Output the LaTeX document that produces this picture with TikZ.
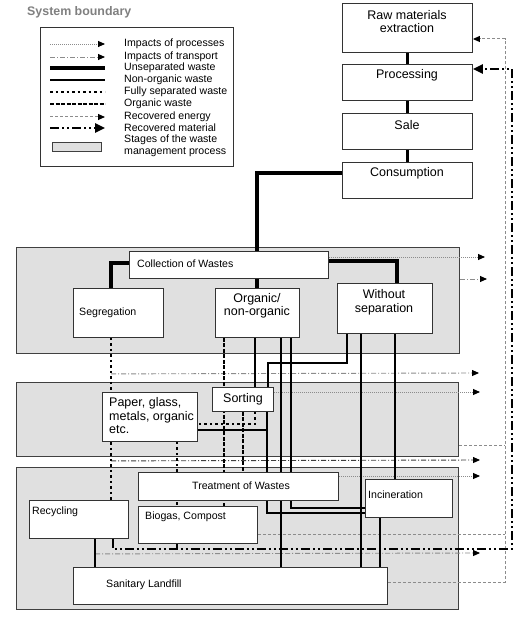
\documentclass[tikz,border=0pt]{standalone}
\usepackage{fontspec}
\setmainfont{Liberation Sans}
\usetikzlibrary{arrows.meta}
\pgfdeclarelayer{bg}
\pgfdeclarelayer{lines}
\pgfsetlayers{bg,lines,main}
\begin{document}
\begin{tikzpicture}[x=1pt,y=-1pt,
  panel/.style={draw=black!75, fill=black!12, line width=1pt, anchor=north west, inner sep=0pt},
  box/.style={draw=black!80, fill=white, line width=0.9pt, anchor=north west, inner sep=0pt},
  txs/.style={font=\fontsize{10.6}{12}\selectfont, inner sep=0pt, anchor=west},
  txl/.style={font=\fontsize{12.5}{13.5}\selectfont, inner sep=0pt, align=center},
  unsep/.style={line width=3.6pt},
  nonorg/.style={line width=2.8pt},
  fullsep/.style={line width=2.7pt, dash pattern=on 2.5pt off 3pt},
  orgw/.style={line width=2.8pt, dash pattern=on 4pt off 1.5pt},
  tipS/.style={-{Triangle[length=7pt,width=6pt,color=black]}},
  impproc/.style={draw=black!45, line width=0.9pt, dash pattern=on 1pt off 1pt, tipS},
  imptrans/.style={draw=black!45, line width=0.9pt, dash pattern=on 5pt off 2pt on 1pt off 2pt, tipS},
  imptransd/.style={draw=black!75, line width=0.9pt, dash pattern=on 5pt off 2pt on 1pt off 2pt, tipS},
  recen/.style={draw=black!45, line width=1pt, dash pattern=on 3pt off 2pt},
  recmat/.style={line width=2.4pt, dash pattern=on 9pt off 3pt on 2pt off 3pt on 2pt off 3pt},
  tipB/.style={-{Triangle[length=10pt,width=9pt]}}
]
\begin{pgfonlayer}{bg}
\fill[white] (0,0) rectangle (525,617);
\path[use as bounding box] (0,0) rectangle (525,617);
\node[panel, minimum width=443pt, minimum height=106pt] (p1) at (16,247) {};
\node[panel, minimum width=442pt, minimum height=74pt] (p2) at (16,382) {};
\node[panel, minimum width=442pt, minimum height=142pt] (p3) at (16,467) {};
\node[box, minimum width=193pt, minimum height=139pt] (leg) at (40,27) {};
\end{pgfonlayer}

% title
\node[font=\bfseries\fontsize{12.4}{14}\selectfont, text=black!50, anchor=west, inner sep=0pt] (sysb) at (27,12) {System boundary};

% legend
\node[txs] (leg1) at (124,44) {Impacts of processes};
\node[txs] (leg2) at (124,57) {Impacts of transport};
\node[txs] (leg3) at (124,68) {Unseparated waste};
\node[txs] (leg4) at (124,80) {Non-organic waste};
\node[txs] (leg5) at (124,92) {Fully separated waste};
\node[txs] (leg6) at (124,104) {Organic waste};
\node[txs] (leg7) at (124,117) {Recovered energy};
\node[txs] (leg8) at (124,128) {Recovered material};
\node[txs, align=left] (leg9) at (124,146) {Stages of the waste\\management process};
\node[panel, minimum width=49pt, minimum height=9pt] (legst) at (52,142) {};

% boxes
\node[box, minimum width=130pt, minimum height=49pt] (raw) at (342,3) {};
\node[box, minimum width=130pt, minimum height=36pt] (proc) at (342,64) {};
\node[box, minimum width=130pt, minimum height=36pt] (sale) at (342,113) {};
\node[box, minimum width=130pt, minimum height=36pt] (cons) at (342,162) {};
\node[box, minimum width=199pt, minimum height=27pt] (coll) at (129,251) {};
\node[box, minimum width=90pt, minimum height=49pt] (segr) at (73,288) {};
\node[box, minimum width=84pt, minimum height=49pt] (orgn) at (215,288) {};
\node[box, minimum width=95pt, minimum height=50pt] (wout) at (337,283) {};
\node[box, minimum width=61pt, minimum height=24pt] (sort) at (212,387) {};
\node[box, minimum width=95pt, minimum height=49pt] (paper) at (102,392) {};
\node[box, minimum width=200pt, minimum height=28pt] (treat) at (138,472) {};
\node[box, minimum width=119pt, minimum height=37pt] (biog) at (138,506) {};
\node[box, minimum width=87pt, minimum height=38pt] (incin) at (365,479) {};
\node[box, minimum width=99pt, minimum height=38pt] (recyc) at (29,500) {};
\node[box, minimum width=314pt, minimum height=37pt] (landf) at (73,567) {};

% texts
\node[txl] (rawT) at (407,21.5) {Raw materials\\extraction};
\node[txl] (procT) at (407,75) {Processing};
\node[txl] (saleT) at (407,125) {Sale};
\node[txl] (consT) at (407,173) {Consumption};
\node[txs] (collT) at (137,264) {Collection of Wastes};
\node[txs] (segrT) at (79,313) {Segregation};
\node[txl] (orgnT) at (257,306) {Organic/\\non-organic};
\node[txl] (woutT) at (384,302.5) {Without\\separation};
\node[txl] (sortT) at (243,399) {Sorting};
\node[txl, anchor=west, align=left] (paperT) at (109,416) {Paper, glass,\\metals, organic\\etc.};
\node[txs, anchor=center] (treatT) at (241,486) {Treatment of Wastes};
\node[txs] (biogT) at (145,517) {Biogas, Compost};
\node[txs] (incinT) at (368,495) {Incineration};
\node[txs] (recycT) at (32,512) {Recycling};
\node[txs] (landfT) at (106,585) {Sanitary Landfill};

\begin{pgfonlayer}{lines}
% legend samples
\draw[impproc] ([xshift=-74pt]leg1.west) -- ([xshift=-19pt]leg1.west);
\draw[imptrans] ([xshift=-74pt]leg2.west) -- ([xshift=-19pt]leg2.west);
\draw[unsep] ([xshift=-74pt]leg3.west) -- ([xshift=-19pt]leg3.west);
\draw[nonorg] ([xshift=-74pt]leg4.west) -- ([xshift=-19pt]leg4.west);
\draw[fullsep] ([xshift=-74pt]leg5.west) -- ([xshift=-19pt]leg5.west);
\draw[orgw] ([xshift=-74pt]leg6.west) -- ([xshift=-19pt]leg6.west);
\draw[recen, tipS] ([xshift=-74pt]leg7.west) -- ([xshift=-19pt]leg7.west);
\draw[recmat, tipB] ([xshift=-74pt]leg8.west) -- ([xshift=-19pt]leg8.west);

% impacts
\coordinate (e1) at (485,257);
\coordinate (e2) at (487,279);
\coordinate (e3) at (479,373);
\coordinate (e4) at (480,392);
\coordinate (e5) at (480,460);
\coordinate (e6) at (480,476);
\coordinate (e7) at (480,553);
\draw[impproc] (coll.east |- 0,257) -- (e1);
\draw[imptrans] (segr.south -| 111,0) ++(0,36) -- (e3);
\draw[imptrans] (p1.east |- 0,279) -- (e2);
\draw[impproc] (sort.east |- 0,392) -- (e4);
\draw[imptransd] (paper.south -| 111,0) ++(0,19) -- (e5);
\draw[impproc] (treat.east |- 0,476) -- (e6);
\draw[imptrans] (recyc.south -| 95,0) ++(0,15) -- (e7);

% recovered energy
\draw[recen] (p2.east |- 0,445) -- (505,445);
\draw[recen] (biog.east |- 0,534) -- (505,534);
\draw[recen, tipS] (landf.east |- 0,582) -| (505,39) -- (raw.east |- 0,39);

% recovered material
\draw[recmat, tipB] (recyc.south -| 113,0) |- (512,549) |- (proc.east |- 0,69);

% waste flows
\draw[unsep] (raw.south) -- (proc.north);
\draw[unsep] (proc.south) -- (sale.north);
\draw[unsep] (sale.south) -- (cons.north);
\draw[unsep] (cons.west |- 0,173) -| (coll.north -| 257,0);
\draw[unsep] (coll.south -| 257,0) -- (orgn.north -| 257,0);
\draw[unsep] (coll.west |- 0,263) -| (segr.north -| 111,0);
\draw[unsep] (coll.east |- 0,261) -| (wout.north -| 397,0);
\draw[fullsep] (segr.south -| 111,0) -- (recyc.north -| 111,0);
\draw[orgw] (orgn.south -| 224,0) -- (biog.north -| 224,0);
\draw[nonorg] (orgn.south -| 255,0) -- (sort.north -| 255,0);
\draw[nonorg] (orgn.south -| 281,0) -- (landf.north -| 281,0);
\draw[nonorg] (orgn.south -| 291,0) |- (incin.west |- 0,508);
\draw[nonorg] (wout.south -| 347,0) |- (268,363) -- (sort.north -| 268,0);
\draw[nonorg] (sort.south -| 267,0) |- (incin.west |- 0,513);
\draw[nonorg] (paper.east |- 0,430) -- (267,430);
\draw[fullsep] (sort.south -| 255,0) |- (paper.east |- 0,424);
\draw[orgw] (sort.south -| 243,0) -- (treat.north -| 243,0);
\draw[fullsep] (paper.south -| 177,0) -- (biog.north -| 177,0);
\draw[nonorg] (biog.south -| 177,0) -- (177,549);
\draw[nonorg] (wout.south -| 361,0) -- (landf.north -| 361,0);
\draw[nonorg] (wout.south -| 395,0) -- (incin.north -| 395,0);
\draw[nonorg] (incin.south -| 380,0) -- (landf.north -| 380,0);
\draw[nonorg] (recyc.south -| 95,0) -- (landf.north -| 95,0);
\end{pgfonlayer}
\end{tikzpicture}
\end{document}
